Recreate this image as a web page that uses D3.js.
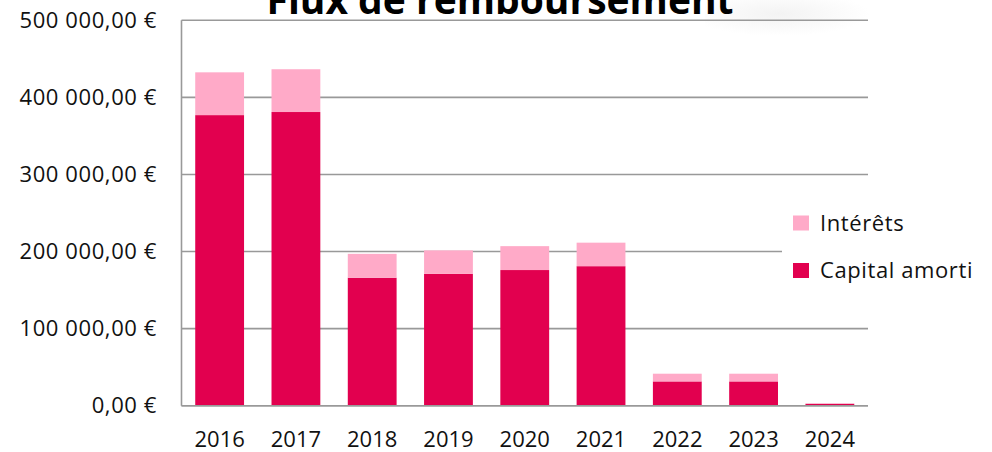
<!DOCTYPE html>
<html><head><meta charset="utf-8">
<script src="https://cdn.jsdelivr.net/npm/d3@7"></script>
<style>body{margin:0;background:#fff}svg{display:block}</style>
</head><body>
<svg id="c" width="992" height="452"></svg>
<script>
const years = ["2016","2017","2018","2019","2020","2021","2022","2023","2024"];
const capital = [377000, 381000, 166000, 171000, 176000, 181000, 31500, 31500, 2500];
const interets = [55500, 55500, 31000, 30500, 31000, 30500, 10000, 10000, 300];
const yTicks = [0, 100000, 200000, 300000, 400000, 500000];
const seriesNames = ["Intérêts", "Capital amorti"];
const colors = {"Capital amorti": "#E2004F", "Intérêts": "#FFAAC8"};
const title = "Flux de remboursement";

const svg = d3.select("#c");
const m = {l: 181.5, r: 868, t: 20.3, b: 405.7};
const x = d3.scaleBand().domain(years).range([m.l, m.r]).paddingInner(0.36).paddingOuter(0.18);
const y = d3.scaleLinear().domain([0, 500000]).range([m.b, m.t]);
const fmt = v => d3.format(",.2f")(v).replace(/,/g, " ").replace(".", ",") + " €";

// faint shading behind title right part
const defs = svg.append("defs");
const rg = defs.append("radialGradient").attr("id","sh").attr("cx","0.45").attr("cy","0.35").attr("r","0.55");
rg.append("stop").attr("offset","0").attr("stop-color","#f3f3f3");
rg.append("stop").attr("offset","1").attr("stop-color","#ffffff");
svg.append("rect").attr("x",705).attr("y",0).attr("width",165).attr("height",40).attr("fill","url(#sh)");

// gridlines
svg.append("g").selectAll("line").data(yTicks).join("line")
  .attr("x1", m.l).attr("x2", m.r)
  .attr("y1", d => y(d)).attr("y2", d => y(d))
  .attr("stroke", "#999").attr("stroke-width", 1.6);

// y axis labels
svg.append("g").selectAll("text").data(yTicks).join("text")
  .attr("x", 157).attr("y", d => y(d) + 7.5)
  .attr("text-anchor", "end")
  .attr("font-family", "Open Sans").attr("font-size", 22).attr("letter-spacing", 0.6).attr("fill", "#111")
  .text(fmt);

// stacked bars
const data = years.map((yr, i) => ({year: yr, "Capital amorti": capital[i], "Intérêts": interets[i]}));
const stack = d3.stack().keys(["Capital amorti", "Intérêts"])(data);
svg.append("g").selectAll("g").data(stack).join("g")
  .attr("fill", d => colors[d.key])
  .selectAll("rect").data(d => d).join("rect")
  .attr("x", d => x(d.data.year)).attr("width", x.bandwidth())
  .attr("y", d => y(d[1])).attr("height", d => y(d[0]) - y(d[1]));

// axis lines
svg.append("line").attr("x1", m.l).attr("x2", m.l).attr("y1", m.t).attr("y2", m.b)
  .attr("stroke", "#999").attr("stroke-width", 1.6);
svg.append("line").attr("x1", m.l).attr("x2", m.r).attr("y1", m.b).attr("y2", m.b)
  .attr("stroke", "#999").attr("stroke-width", 1.6);

// x labels
svg.append("g").selectAll("text").data(years).join("text")
  .attr("x", d => x(d) + x.bandwidth()/2).attr("y", 447)
  .attr("text-anchor", "middle")
  .attr("font-family", "Open Sans").attr("font-size", 22).attr("fill", "#111")
  .text(d => d);

// legend
const lg = svg.append("g");
lg.append("rect").attr("x", 782).attr("y", 200).attr("width", 210).attr("height", 95).attr("fill", "#fff");
seriesNames.forEach((s, i) => {
  const yy = 215.5 + i * 47.5;
  lg.append("rect").attr("x", 793).attr("y", yy).attr("width", 16).attr("height", 15).attr("fill", colors[s]);
  lg.append("text").attr("x", 820).attr("y", yy + 15).attr("font-family", "Open Sans").attr("font-size", 22)
    .attr("letter-spacing", 0.6).attr("fill", "#111").text(s);
});

// title
svg.append("text").attr("x", 500).attr("y", 14).attr("text-anchor", "middle")
  .attr("font-family", "Open Sans").attr("font-weight", "bold").attr("font-size", 39).attr("fill", "#000")
  .text(title);
</script>
</body></html>
